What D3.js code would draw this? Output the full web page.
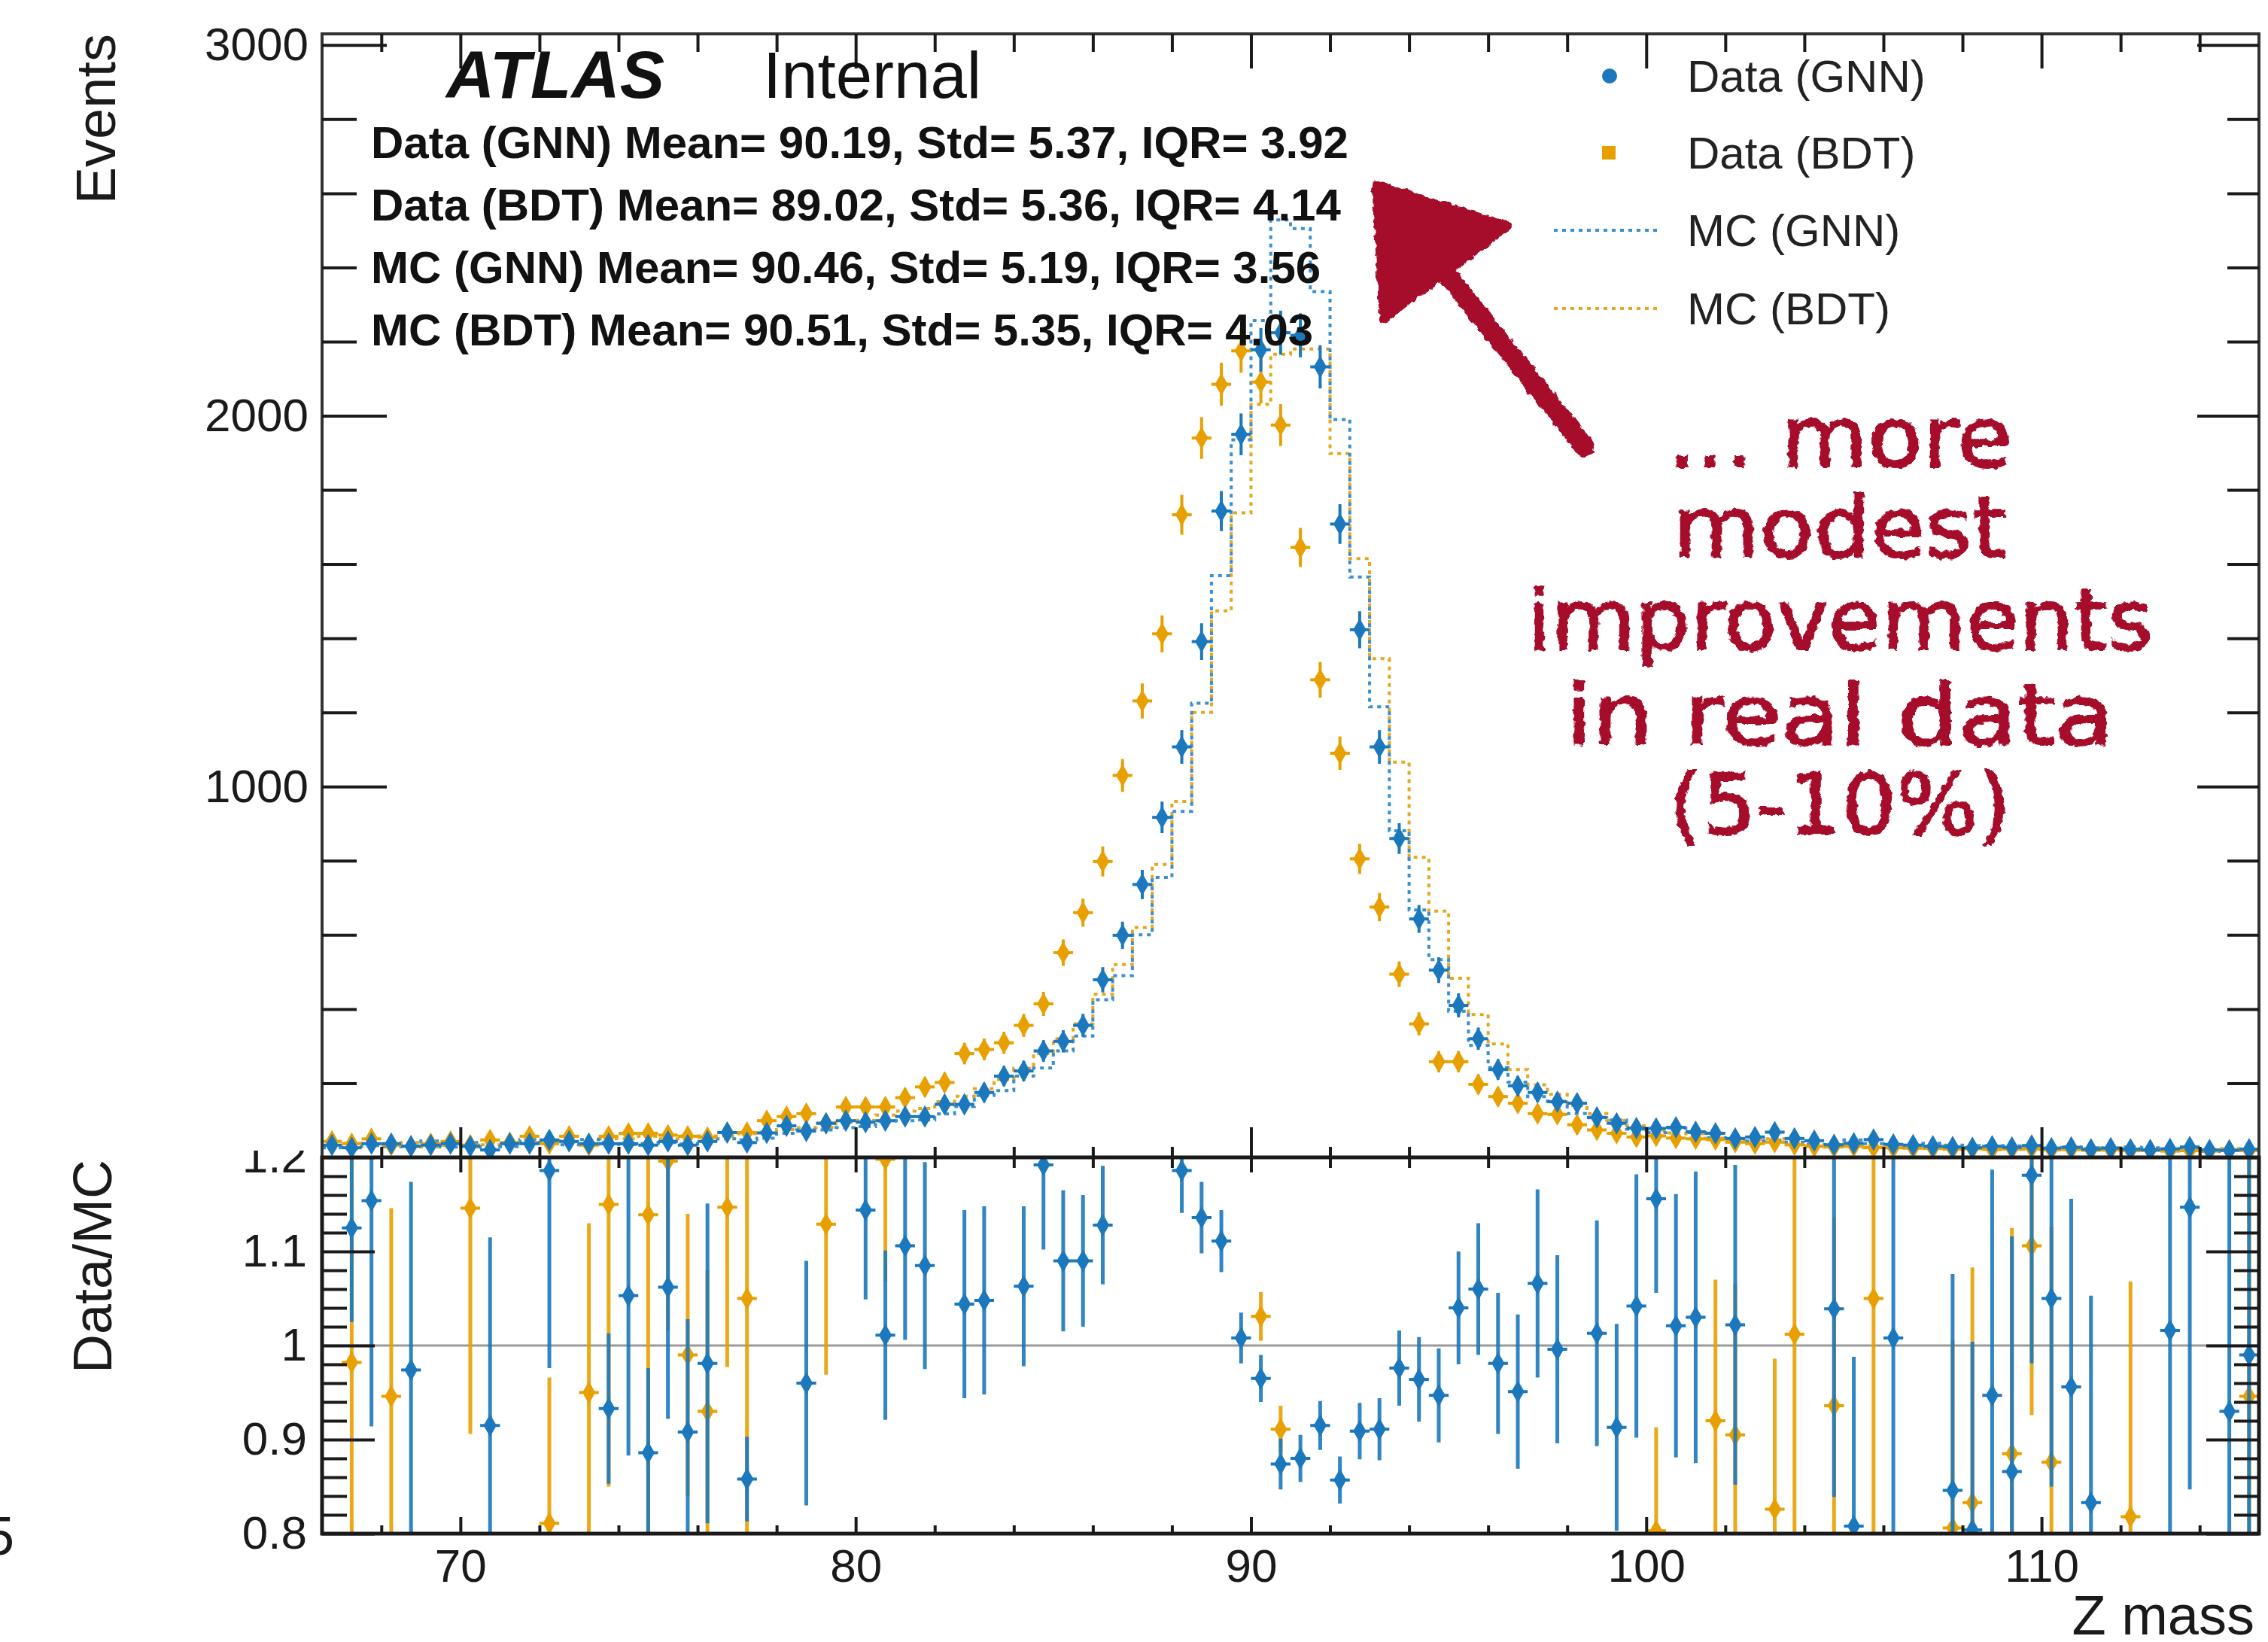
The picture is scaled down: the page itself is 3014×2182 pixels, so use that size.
<!DOCTYPE html>
<meta charset="utf-8">
<style>

body { margin: 0; background: #fff; }
svg { display: block; font-family: "Liberation Sans", Arial, sans-serif; }
.axis path.domain { display: none; }
.axis line { stroke: #1a1a1a; stroke-width: 4; }
.axis text { font-size: 62px; fill: #1a1a1a; font-family: "Liberation Sans", Arial, sans-serif; }

</style>
<svg width="3014" height="2182"></svg>
<script src="https://d3js.org/d3.v7.min.js"></script>
<script>

// binning: 66.5 .. 115.5 in steps of 0.5
var binLow = 66.5,
    binWidth = 0.5;

// events per bin (98 bins)
var dataGNN = [33, 26, 37, 37, 30, 33, 37, 30, 20, 37,
  37, 47, 43, 37, 37, 37, 33, 43, 33, 43,
  67, 40, 66, 85, 71, 92, 99, 95, 99, 110,
  110, 143, 143, 175, 219, 233, 287, 313, 356, 479,
  599, 736, 917, 1107, 1391, 1743, 1950, 2178, 2224, 2217,
  2132, 1708, 1423, 1107, 860, 643, 505, 410, 320, 237,
  193, 175, 150, 146, 108, 92, 79, 78, 81, 69,
  65, 51, 55, 68, 51, 45, 34, 38, 48, 35,
  33, 30, 28, 26, 30, 27, 32, 25, 27, 22,
  25, 22, 20, 23, 28, 20, 19, 22];

var dataBDT = [43, 37, 50, 33, 30, 37, 43, 33, 47, 40,
  57, 37, 57, 33, 57, 65, 65, 60, 57, 54,
  67, 67, 99, 110, 118, 92, 136, 136, 136, 161,
  190, 202, 280, 291, 309, 356, 414, 552, 660, 798,
  1030, 1231, 1412, 1733, 1940, 2085, 2175, 2091, 1975, 1645,
  1288, 1090, 805, 675, 494, 360, 258, 258, 197, 164,
  146, 118, 116, 88, 74, 65, 55, 58, 52, 50,
  48, 41, 37, 41, 34, 30, 28, 30, 27, 26,
  25, 24, 22, 23, 21, 22, 24, 20, 21, 19,
  20, 18, 19, 17, 18, 17, 19, 18];

var mcGNN = [26, 23, 32, 29, 31, 44, 28, 40, 22, 29,
  48, 40, 34, 48, 40, 35, 37, 40, 36, 44,
  50, 47, 52, 65, 74, 74, 80, 83, 98, 99,
  101, 117, 137, 167, 180, 219, 241, 287, 327, 425,
  490, 600, 755, 933, 1225, 1569, 1935, 2257, 2528, 2505,
  2335, 1990, 1565, 1215, 881, 667, 533, 394, 302, 242,
  203, 164, 151, 118, 107, 101, 76, 67, 79, 67,
  53, 50, 44, 46, 41, 35, 33, 47, 37, 35,
  26, 38, 33, 32, 32, 31, 27, 24, 28, 26,
  20, 28, 26, 23, 24, 16, 20, 22];

var mcBDT = [30, 38, 36, 35, 40, 28, 32, 29, 34, 32,
  40, 46, 42, 35, 50, 50, 57, 50, 58, 58,
  58, 64, 68, 75, 80, 81, 95, 100, 114, 125,
  132, 150, 165, 185, 210, 240, 280, 320, 360, 440,
  520, 620, 790, 960, 1200, 1474, 1738, 2031, 2166, 2180,
  2180, 1898, 1615, 1345, 1066, 809, 664, 483, 385, 306,
  237, 196, 170, 140, 118, 100, 85, 72, 66, 64,
  52, 45, 48, 50, 34, 39, 30, 38, 26, 33,
  32, 31, 27, 28, 27, 25, 22, 23, 27, 24,
  26, 22, 24, 22, 23, 22, 24, 19];

// ratio points that fall inside 0.8 - 1.2
var ratioGNNMass = [67.25, 67.75, 68.75, 70.75, 72.25, 73.75, 74.25, 74.75, 75.25, 75.75,
  76.25, 77.25, 78.75, 80.25, 80.75, 81.25, 81.75, 82.75, 83.25, 84.25,
  84.75, 85.25, 85.75, 86.25, 88.25, 88.75, 89.25, 89.75, 90.25, 90.75,
  91.25, 91.75, 92.25, 92.75, 93.25, 93.75, 94.25, 94.75, 95.25, 95.75,
  96.25, 96.75, 97.25, 97.75, 98.75, 99.25, 99.75, 100.25, 100.75, 101.25,
  102.25, 104.75, 105.25, 106.25, 107.75, 108.25, 108.75, 109.25, 109.75, 110.25,
  110.75, 111.25, 113.25, 113.75, 114.75, 115.25];
var ratioGNN = [1.125, 1.154, 0.974, 0.915, 1.186, 0.933, 1.053, 0.886, 1.062, 0.908,
  0.981, 0.858, 0.96, 1.144, 1.011, 1.106, 1.085, 1.044, 1.048, 1.063,
  1.192, 1.09, 1.09, 1.128, 1.186, 1.136, 1.111, 1.008, 0.965, 0.874,
  0.88, 0.915, 0.857, 0.909, 0.911, 0.976, 0.964, 0.947, 1.04, 1.06,
  0.981, 0.951, 1.066, 0.996, 1.013, 0.913, 1.042, 1.156, 1.021, 1.03,
  1.022, 1.039, 0.808, 1.008, 0.846, 0.804, 0.947, 0.866, 1.181, 1.05,
  0.956, 0.833, 1.016, 1.147, 0.93, 0.99];
var ratioGNNErr = [0.10, 0.24, 0.20, 0.20, 0.21, 0.08, 0.17, 0.09, 0.14, 0.12,
  0.17, 0.045, 0.13, 0.095, 0.09, 0.10, 0.11, 0.10, 0.10, 0.085,
  0.09, 0.075, 0.07, 0.063, 0.045, 0.038, 0.033, 0.027, 0.025, 0.027,
  0.025, 0.026, 0.025, 0.03, 0.033, 0.04, 0.045, 0.05, 0.06, 0.07,
  0.075, 0.082, 0.10, 0.10, 0.12, 0.11, 0.14, 0.10, 0.14, 0.155,
  0.17, 0.20, 0.18, 0.30, 0.23, 0.20, 0.24, 0.25, 0.20, 0.20,
  0.20, 0.22, 0.30, 0.30, 0.30, 0.30];

var ratioBDTMass = [67.25, 68.25, 70.25, 72.25, 73.25, 73.75, 74.75, 75.25, 75.75, 76.25,
  76.75, 77.25, 79.25, 80.75, 90.25, 90.75, 100.25, 101.75, 102.25, 103.25,
  103.75, 104.75, 105.75, 107.75, 108.25, 109.25, 109.75, 110.25, 112.25, 115.25];
var ratioBDT = [0.982, 0.946, 1.146, 0.811, 0.95, 1.15, 1.139, 1.196, 0.99, 0.93,
  1.147, 1.05, 1.129, 1.198, 1.031, 0.911, 0.803, 0.92, 0.905, 0.826,
  1.012, 0.936, 1.05, 0.806, 0.833, 0.885, 1.106, 0.876, 0.818, 0.946];
var ratioBDTErr = [0.30, 0.20, 0.24, 0.155, 0.18, 0.30, 0.35, 0.18, 0.15, 0.15,
  0.17, 0.30, 0.16, 0.13, 0.026, 0.025, 0.11, 0.15, 0.16, 0.16,
  0.30, 0.20, 0.30, 0.20, 0.25, 0.24, 0.18, 0.25, 0.25, 0.30];

// stats box
var statNames = ["Data (GNN)", "Data (BDT)", "MC (GNN)", "MC (BDT)"];
var statMean = ["90.19", "89.02", "90.46", "90.51"];
var statStd = ["5.37", "5.36", "5.19", "5.35"];
var statIQR = ["3.92", "4.14", "3.56", "4.03"];

// ticks
var yTicks = [1000, 2000, 3000];
var ratioTicks = [0.8, 0.9, 1, 1.1, 1.2];
var xTicks = [70, 80, 90, 100, 110];

// handwritten note
var noteLines = ["... more", "modest", "improvements", "in real data", "(5-10%)"];
var noteWidths = [458, 444, 832, 729, 455];

var blue = "#1b78bd",
    orange = "#e8a000",
    blueMC = "#3b8fcc",
    orangeMC = "#e4a81e",
    red = "#a6092b";

var svg = d3.select("svg");

var x = d3.scaleLinear().domain([66.5, 115.5]).range([428, 3002]);
var y = d3.scaleLinear().domain([0, 3030]).range([1538, 45]);
var yr = d3.scaleLinear().domain([0.8, 1.2]).range([2038, 1538]);

function center(i) { return binLow + binWidth * (i + 0.5); }

var defs = svg.append("defs");
defs.append("clipPath").attr("id", "clipTop")
  .append("rect").attr("x", 428).attr("y", 45).attr("width", 2574).attr("height", 1493);
defs.append("clipPath").attr("id", "clipRatio")
  .append("rect").attr("x", 428).attr("y", 1538).attr("width", 2574).attr("height", 500);
// used inside a group shifted by 428, so the rect starts left of it
defs.append("clipPath").attr("id", "clipRatioAxis")
  .append("rect").attr("x", -428).attr("y", 1529).attr("width", 3014).attr("height", 653);

// rough edge for the hand drawn note
var rough = defs.append("filter").attr("id", "rough")
  .attr("x", "-10%").attr("y", "-10%").attr("width", "120%").attr("height", "120%");
rough.append("feTurbulence").attr("type", "fractalNoise").attr("baseFrequency", 0.12)
  .attr("numOctaves", 2).attr("seed", 3).attr("result", "noise");
rough.append("feDisplacementMap").attr("in", "SourceGraphic").attr("in2", "noise")
  .attr("scale", 8).attr("xChannelSelector", "R").attr("yChannelSelector", "G");

//--- TOP PANEL
var topPanel = svg.append("g").attr("clip-path", "url(#clipTop)");

// MC step histograms
var step = d3.line()
    .x(function(d) { return x(d[0]); })
    .y(function(d) { return y(d[1]); })
    .curve(d3.curveStepAfter);

function stepPoints(vals) {
  var pts = vals.map(function(v, i) { return [binLow + binWidth * i, v]; });
  pts.push([binLow + binWidth * vals.length, vals[vals.length - 1]]);
  return pts;
}

topPanel.append("path")
    .attr("d", step(stepPoints(mcBDT)))
    .attr("fill", "none").attr("stroke", orangeMC)
    .attr("stroke-width", 4).attr("stroke-dasharray", "5 6");
topPanel.append("path")
    .attr("d", step(stepPoints(mcGNN)))
    .attr("fill", "none").attr("stroke", blueMC)
    .attr("stroke-width", 4).attr("stroke-dasharray", "5 6");

var diamond = d3.symbol().type(d3.symbolDiamond).size(260);
var halfBin = (x(binLow + binWidth) - x(binLow)) / 2;

// data points with poisson error bars
function drawData(g, vals, color) {
  var pts = g.append("g").selectAll("g")
    .data(vals)
    .enter().append("g")
      .attr("transform", function(d, i) { return "translate(" + x(center(i)) + "," + y(d) + ")"; });
  pts.append("line")
      .attr("x1", 0).attr("x2", 0)
      .attr("y1", function(d) { return y(d + Math.sqrt(d)) - y(d) - 6; })
      .attr("y2", function(d) { return y(d - Math.sqrt(d)) - y(d) + 6; })
      .attr("stroke", color).attr("stroke-width", 4);
  pts.append("line")
      .attr("x1", -halfBin).attr("x2", halfBin)
      .attr("stroke", color).attr("stroke-width", 4);
  pts.append("path").attr("d", diamond).attr("fill", color);
}

drawData(topPanel, dataBDT, orange);
drawData(topPanel, dataGNN, blue);

//--- RATIO PANEL
var ratioPanel = svg.append("g").attr("clip-path", "url(#clipRatio)");

ratioPanel.append("line")
    .attr("x1", x(binLow)).attr("x2", x(115.5))
    .attr("y1", yr(1)).attr("y2", yr(1))
    .attr("stroke", "#9a9a9a").attr("stroke-width", 3);

function drawRatio(g, mass, vals, errs, color) {
  var pts = g.append("g").selectAll("g")
    .data(vals)
    .enter().append("g")
      .attr("transform", function(d, i) { return "translate(" + x(mass[i]) + "," + yr(d) + ")"; });
  pts.append("line")
      .attr("x1", 0).attr("x2", 0)
      .attr("y1", function(d, i) { return yr(d + errs[i]) - yr(d); })
      .attr("y2", function(d, i) { return yr(d - errs[i]) - yr(d); })
      .attr("stroke", color).attr("stroke-width", 5).attr("stroke-opacity", 0.9);
  pts.append("line")
      .attr("x1", -halfBin).attr("x2", halfBin)
      .attr("stroke", color).attr("stroke-width", 4);
  pts.append("path").attr("d", diamond).attr("fill", color);
}

drawRatio(ratioPanel, ratioBDTMass, ratioBDT, ratioBDTErr, orange);
drawRatio(ratioPanel, ratioGNNMass, ratioGNN, ratioGNNErr, blue);

//--- FRAMES
svg.append("rect").attr("x", 428).attr("y", 45).attr("width", 2574).attr("height", 1493)
    .attr("fill", "none").attr("stroke", "#333").attr("stroke-width", 4);
svg.append("rect").attr("x", 428).attr("y", 1538).attr("width", 2574).attr("height", 500)
    .attr("fill", "none").attr("stroke", "#1a1a1a").attr("stroke-width", 5);

//--- AXES
var xMinor = d3.range(68, 115, 2).filter(function(d) { return d % 10 !== 0; });
var yMinor = d3.range(200, 3001, 200).filter(function(d) { return d % 1000 !== 0; });
var rMinor = d3.range(41).map(function(k) { return 0.8 + 0.01 * k; })
    .filter(function(d, k) { return k % 2 === 0 && k % 10 !== 0; });

function axisG(tx, ty) {
  return svg.append("g").attr("class", "axis").attr("transform", "translate(" + tx + "," + ty + ")");
}

// top panel y
axisG(428, 0).call(d3.axisLeft(y).tickValues(yTicks).tickSize(-86).tickPadding(18)
    .tickFormat(d3.format("d")));
axisG(428, 0).call(d3.axisLeft(y).tickValues(yMinor).tickSize(-46).tickFormat(""));
axisG(3002, 0).call(d3.axisRight(y).tickValues(yTicks).tickSize(-82).tickFormat(""));
axisG(3002, 0).call(d3.axisRight(y).tickValues(yMinor).tickSize(-42).tickFormat(""));

// top panel x (top edge and shared edge)
axisG(0, 45).call(d3.axisTop(x).tickValues(xTicks).tickSize(-46).tickFormat(""));
axisG(0, 45).call(d3.axisTop(x).tickValues(xMinor).tickSize(-24).tickFormat(""));
axisG(0, 1538).call(d3.axisBottom(x).tickValues(xTicks).tickSize(-40).tickFormat(""));
axisG(0, 1538).call(d3.axisBottom(x).tickValues(xMinor).tickSize(-14).tickFormat(""));
axisG(0, 1538).call(d3.axisBottom(x).tickValues(xTicks).tickSize(20).tickFormat(""));
axisG(0, 1538).call(d3.axisBottom(x).tickValues(xMinor).tickSize(14).tickFormat(""));

// ratio x
axisG(0, 2038).call(d3.axisBottom(x).tickValues(xTicks).tickSize(-22).tickPadding(20)
    .tickFormat(d3.format("d")));
axisG(0, 2038).call(d3.axisBottom(x).tickValues(xMinor).tickSize(-11).tickFormat(""));

// ratio y (top label is partly hidden under the upper pad)
axisG(428, 0).attr("clip-path", "url(#clipRatioAxis)")
  .call(d3.axisLeft(yr).tickValues(ratioTicks).tickSize(-70).tickPadding(20)
    .tickFormat(function(d) { return String(d); }));
axisG(428, 0).call(d3.axisLeft(yr).tickValues(rMinor).tickSize(-33).tickFormat(""));
axisG(3002, 0).call(d3.axisRight(yr).tickValues(ratioTicks).tickSize(-70).tickFormat(""));
axisG(3002, 0).call(d3.axisRight(yr).tickValues(rMinor).tickSize(-33).tickFormat(""));

// axis titles
svg.append("text")
    .attr("transform", "translate(153,45) rotate(-90)")
    .attr("text-anchor", "end").attr("font-size", 74).attr("fill", "#1a1a1a")
    .text("Events");
svg.append("text")
    .attr("transform", "translate(148,1541) rotate(-90)")
    .attr("text-anchor", "end").attr("font-size", 72).attr("fill", "#1a1a1a")
    .text("Data/MC");
svg.append("text")
    .attr("x", 2996).attr("y", 2172)
    .attr("text-anchor", "end").attr("font-size", 74).attr("fill", "#1a1a1a")
    .text("Z mass");
// cut off digit at the left edge
svg.append("text")
    .attr("x", -21).attr("y", 2066)
    .attr("font-size", 72).attr("fill", "#1a1a1a")
    .text("5");

//--- LABELS
svg.append("text")
    .attr("x", 593).attr("y", 130)
    .attr("font-size", 89).attr("font-weight", "bold").attr("font-style", "italic")
    .attr("fill", "#111")
    .text("ATLAS");
svg.append("text")
    .attr("x", 1014).attr("y", 130)
    .attr("font-size", 87).attr("fill", "#111")
    .text("Internal");

svg.append("g").selectAll("text")
  .data(statNames)
  .enter().append("text")
    .attr("x", 493)
    .attr("y", function(d, i) { return 210 + i * 83; })
    .attr("font-size", 60).attr("font-weight", "bold").attr("fill", "#111")
    .text(function(d, i) {
      return d + " Mean= " + statMean[i] + ", Std= " + statStd[i] + ", IQR= " + statIQR[i];
    });

//--- LEGEND
var legendY = [101, 203, 306, 410];
var leg = svg.append("g");
leg.append("circle").attr("cx", 2139).attr("cy", legendY[0]).attr("r", 10).attr("fill", blue);
leg.append("rect").attr("x", 2129).attr("y", legendY[1] - 9).attr("width", 18).attr("height", 18)
    .attr("fill", orange);
leg.append("line").attr("x1", 2065).attr("x2", 2208).attr("y1", legendY[2]).attr("y2", legendY[2])
    .attr("stroke", blueMC).attr("stroke-width", 4).attr("stroke-dasharray", "5 6");
leg.append("line").attr("x1", 2065).attr("x2", 2208).attr("y1", legendY[3]).attr("y2", legendY[3])
    .attr("stroke", orangeMC).attr("stroke-width", 4).attr("stroke-dasharray", "5 6");
leg.selectAll("text")
  .data(statNames)
  .enter().append("text")
    .attr("x", 2242)
    .attr("y", function(d, i) { return legendY[i] + 21; })
    .attr("font-size", 60).attr("fill", "#222")
    .text(function(d) { return d; });

//--- NOTE AND ARROW
var note = svg.append("g").attr("filter", "url(#rough)").attr("fill", red).attr("stroke", red);

note.append("line")
    .attr("x1", 2106).attr("y1", 594).attr("x2", 1925).attr("y2", 368)
    .attr("stroke-width", 26).attr("stroke-linecap", "round");
note.append("path")
    .attr("d", "M1828,245L2005,300L1838,425Z")
    .attr("stroke-width", 10).attr("stroke-linejoin", "round");

note.selectAll("text")
  .data(noteLines)
  .enter().append("text")
    .attr("x", 2445)
    .attr("y", function(d, i) { return [620, 740, 863, 989, 1108][i]; })
    .attr("text-anchor", "middle")
    .attr("font-family", "DejaVu Sans, sans-serif")
    .attr("font-size", 112)
    .attr("stroke-width", 2)
    .attr("textLength", function(d, i) { return noteWidths[i]; })
    .attr("lengthAdjust", "spacingAndGlyphs")
    .text(function(d) { return d; });

</script>
